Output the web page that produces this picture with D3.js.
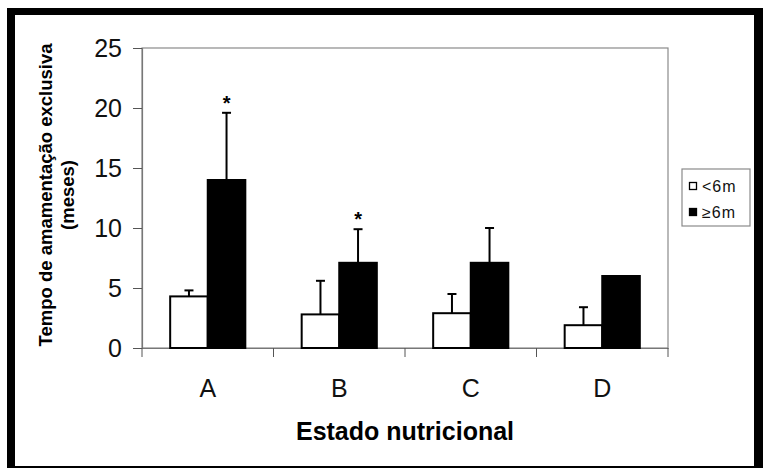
<!DOCTYPE html>
<head>
    <meta charset="utf-8">
    <style>
        body { margin: 0; background: #fff; }
        text { font-family: "Liberation Sans", Arial, sans-serif; }
    </style>
</head>
<body>
    <script src="https://d3js.org/d3.v7.min.js"></script>
    <script>

        // data
        var categories = ["A", "B", "C", "D"];
        var seriesNames = ["<6m", "\u22656m"];
        var under6 = [4.3, 2.8, 2.9, 1.9];
        var over6 = [14.0, 7.1, 7.1, 6.0];
        var under6Sd = [0.5, 2.8, 1.6, 1.5];
        var over6Sd = [5.6, 2.8, 2.9, 0];
        var over6Sig = ["*", "*", "", ""];
        var yTicks = [0, 5, 10, 15, 20, 25];

        var W = 763, H = 468;
        var margin = {top: 48, left: 142},
            width = 526,
            height = 300;

        var svg = d3.select("body").append("svg")
            .attr("width", W)
            .attr("height", H);

        // thick black frame round the picture
        svg.append("rect")
            .attr("x", 7).attr("y", 8)
            .attr("width", W).attr("height", H)
            .attr("fill", "#000");
        svg.append("rect")
            .attr("x", 15).attr("y", 15)
            .attr("width", 739).attr("height", 451)
            .attr("fill", "#fff");

        var g = svg.append("g")
            .attr("transform", "translate(" + margin.left + "," + margin.top + ")");

        // scales
        var x0 = d3.scaleBand().domain(categories).range([0, width]).padding(0);
        var x1 = d3.scaleBand().domain(seriesNames).range([0, x0.bandwidth()])
            .paddingInner(0).paddingOuter(0.75);
        var y = d3.scaleLinear().domain([0, 25]).range([height, 0]);

        // plot area border (top / right)
        g.append("rect")
            .attr("width", width).attr("height", height)
            .attr("fill", "none")
            .attr("stroke", "#8a8a8a")
            .attr("stroke-width", 1.2);

        // y axis
        var yAxis = g.append("g")
            .call(d3.axisLeft(y).tickValues(yTicks).tickSize(9).tickPadding(11));
        yAxis.select(".domain").attr("stroke", "#777").attr("stroke-width", 1.2);
        yAxis.selectAll(".tick line").attr("stroke", "#555");
        yAxis.selectAll(".tick text")
            .attr("fill", "#111")
            .style("font-size", "25px");

        // x axis: labels centred, ticks on the category boundaries
        var xAxis = g.append("g")
            .attr("transform", "translate(0," + height + ")")
            .call(d3.axisBottom(x0).tickSize(0).tickPadding(0));
        xAxis.select(".domain").attr("stroke", "#777").attr("stroke-width", 1.2);
        xAxis.selectAll(".tick text")
            .attr("dy", null)
            .attr("y", 49)
            .attr("fill", "#111")
            .style("font-size", "25px");

        var bounds = categories.map(function(c) { return x0(c); }).concat([x0.range()[1]]);
        g.selectAll(".xtick")
            .data(bounds)
            .enter().append("line")
            .attr("x1", function(d) { return d; })
            .attr("x2", function(d) { return d; })
            .attr("y1", height)
            .attr("y2", height + 9)
            .attr("stroke", "#555");

        // bars
        var rows = categories.map(function(c, i) {
            return [
                {cat: c, s: seriesNames[0], v: under6[i], sd: under6Sd[i], sig: ""},
                {cat: c, s: seriesNames[1], v: over6[i], sd: over6Sd[i], sig: over6Sig[i]}
            ];
        });
        var flat = [].concat.apply([], rows);

        function bx(d) { return x0(d.cat) + x1(d.s); }
        function cx(d) { return bx(d) + x1.bandwidth() / 2; }

        // error bars (upper only) drawn behind the bars
        var err = flat.filter(function(d) { return d.sd > 0; });
        g.selectAll(".err")
            .data(err)
            .enter().append("line")
            .attr("x1", cx).attr("x2", cx)
            .attr("y1", function(d) { return y(d.v); })
            .attr("y2", function(d) { return y(d.v + d.sd); })
            .attr("stroke", "#000")
            .attr("stroke-width", 2);
        g.selectAll(".cap")
            .data(err)
            .enter().append("line")
            .attr("x1", function(d) { return cx(d) - 4.5; })
            .attr("x2", function(d) { return cx(d) + 4.5; })
            .attr("y1", function(d) { return y(d.v + d.sd); })
            .attr("y2", function(d) { return y(d.v + d.sd); })
            .attr("stroke", "#000")
            .attr("stroke-width", 2);

        g.selectAll(".bar")
            .data(flat)
            .enter().append("rect")
            .attr("x", bx)
            .attr("y", function(d) { return y(d.v); })
            .attr("width", x1.bandwidth())
            .attr("height", function(d) { return height - y(d.v); })
            .attr("fill", function(d) { return d.s === seriesNames[0] ? "#fff" : "#000"; })
            .attr("stroke", "#000")
            .attr("stroke-width", 2);

        // significance stars
        g.selectAll(".sig")
            .data(flat.filter(function(d) { return d.sig; }))
            .enter().append("text")
            .attr("x", cx)
            .attr("y", function(d) { return y(d.v + d.sd) - 3; })
            .attr("text-anchor", "middle")
            .style("font-size", "20px")
            .style("font-weight", "bold")
            .attr("fill", "#000")
            .text(function(d) { return d.sig; });

        // y title (two lines)
        svg.append("text")
            .attr("transform", "translate(52,195) rotate(-90)")
            .attr("text-anchor", "middle")
            .style("font-size", "18.5px")
            .style("font-weight", "bold")
            .text("Tempo de amamentação exclusiva");
        svg.append("text")
            .attr("transform", "translate(74,195) rotate(-90)")
            .attr("text-anchor", "middle")
            .style("font-size", "18.5px")
            .style("font-weight", "bold")
            .text("(meses)");

        // x title
        svg.append("text")
            .attr("x", margin.left + width / 2)
            .attr("y", 440)
            .attr("text-anchor", "middle")
            .style("font-size", "25px")
            .style("font-weight", "bold")
            .text("Estado nutricional");

        // legend
        var legend = svg.append("g").attr("transform", "translate(682,169)");
        legend.append("rect")
            .attr("width", 68).attr("height", 57)
            .attr("fill", "#fff")
            .attr("stroke", "#8a8a8a")
            .attr("stroke-width", 1.2);
        seriesNames.forEach(function(s, i) {
            var ly = 17 + i * 26;
            legend.append("rect")
                .attr("x", 7.5).attr("y", ly - 3.5)
                .attr("width", 7).attr("height", 7)
                .attr("fill", i === 0 ? "#fff" : "#000")
                .attr("stroke", "#000")
                .attr("stroke-width", 1.3);
            legend.append("text")
                .attr("x", 20)
                .attr("y", ly + 5.5)
                .style("font-size", "16px")
                .style("letter-spacing", "1px")
                .attr("fill", "#111")
                .text(s);
        });

    </script>
</body>
